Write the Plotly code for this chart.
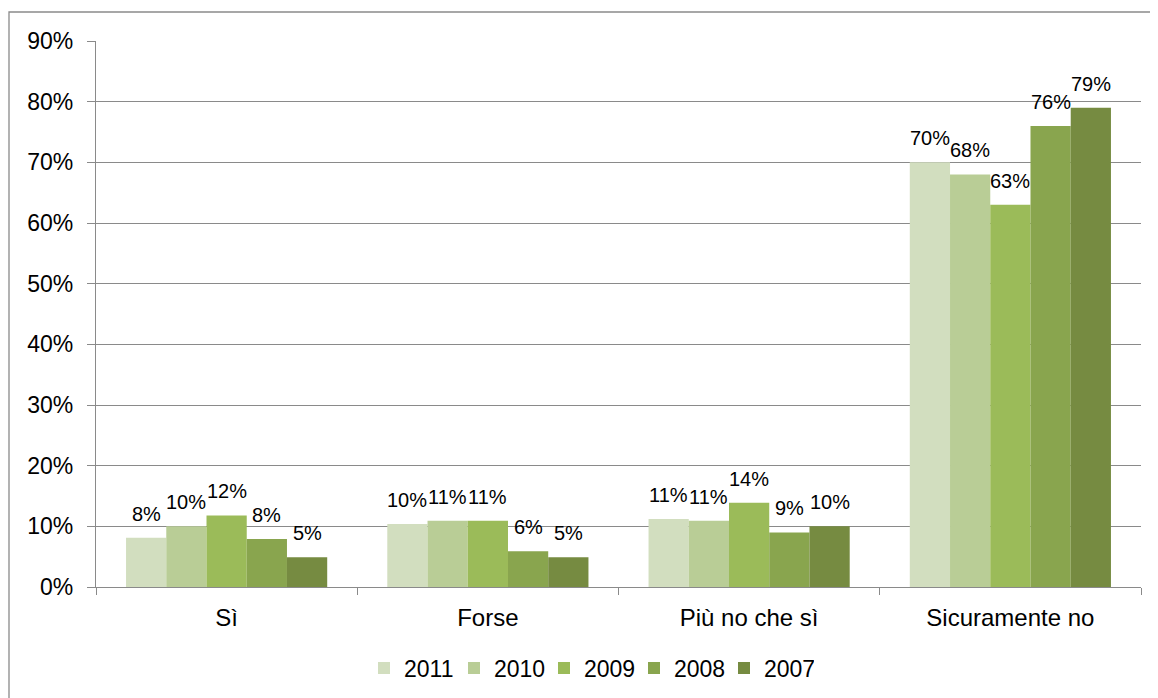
import plotly.graph_objects as go

categories = ["Sì", "Forse", "Più no che sì", "Sicuramente no"]
years = ["2011", "2010", "2009", "2008", "2007"]
values = {
    "2011": [0.081, 0.104, 0.112, 0.70],
    "2010": [0.100, 0.109, 0.109, 0.68],
    "2009": [0.118, 0.109, 0.139, 0.63],
    "2008": [0.079, 0.059, 0.090, 0.76],
    "2007": [0.049, 0.049, 0.100, 0.79],
}
colors = {
    "2011": "#D2DEBF",
    "2010": "#B9CD96",
    "2009": "#9BBB59",
    "2008": "#89A54E",
    "2007": "#768B41",
}

FONT = "Liberation Sans, Arial, sans-serif"
GRID = "#8A8A8A"
BARGAP = 0.23

fig = go.Figure()
for y in years:
    fig.add_trace(go.Bar(
        name=y, x=categories, y=values[y],
        marker=dict(color=colors[y], line=dict(width=0)),
        hoverinfo="x+y+name",
    ))

# data labels placed above each bar (grouped-bar offsets from the axis layout)
n = len(years)
bw = (1 - BARGAP) / n
annotations = []
for i, yname in enumerate(years):
    for j, v in enumerate(values[yname]):
        annotations.append(dict(
            x=j + (i - (n - 1) / 2) * bw, y=v, xref="x", yref="y",
            text=f"{round(v * 100)}%", showarrow=False,
            xanchor="center", yanchor="bottom", yshift=11,
            font=dict(family=FONT, size=20, color="black"),
        ))

# page is drawn with an 8px body margin; figure coordinates below account for it
W, H = 1150, 690
L, R, T, B = 88, 1133, 33, 579
pw, ph = R - L, B - T

fig.update_layout(
    width=W, height=H,
    margin=dict(l=L, r=W - R, t=T, b=H - B),
    plot_bgcolor="white", paper_bgcolor="white",
    barmode="group", bargap=BARGAP, bargroupgap=0,
    font=dict(family=FONT, size=23, color="black"),
    showlegend=True,
    legend=dict(orientation="h", xref="container", yref="container",
                x=356 / W, xanchor="left",
                y=(H - 660) / H, yanchor="middle",
                font=dict(family=FONT, size=23), traceorder="normal",
                itemwidth=30, entrywidth=45, entrywidthmode="pixels"),
    xaxis=dict(showgrid=False, showline=True, linecolor=GRID, linewidth=1.3,
               ticks="outside", tickson="boundaries", ticklen=7, tickcolor=GRID,
               tickwidth=1.3, ticklabelstandoff=9, automargin=False,
               tickfont=dict(family=FONT, size=24, color="black")),
    yaxis=dict(range=[0, 0.9], dtick=0.1, tickformat=".0%",
               showgrid=True, gridcolor=GRID, gridwidth=1.3,
               showline=True, linecolor=GRID, linewidth=1.3, zeroline=False,
               ticks="outside", ticklen=8, tickcolor=GRID, tickwidth=1.3,
               ticklabelstandoff=9, automargin=False,
               tickfont=dict(family=FONT, size=23, color="black")),
    annotations=annotations,
    shapes=[dict(type="rect", xref="paper", yref="paper",
                 x0=(1 - L) / pw, x1=(1170 - L) / pw,
                 y0=(B - 4) / ph, y1=(B - 710) / ph,
                 line=dict(color=GRID, width=1.3), layer="below")],
)

fig.write_html("out.html")
